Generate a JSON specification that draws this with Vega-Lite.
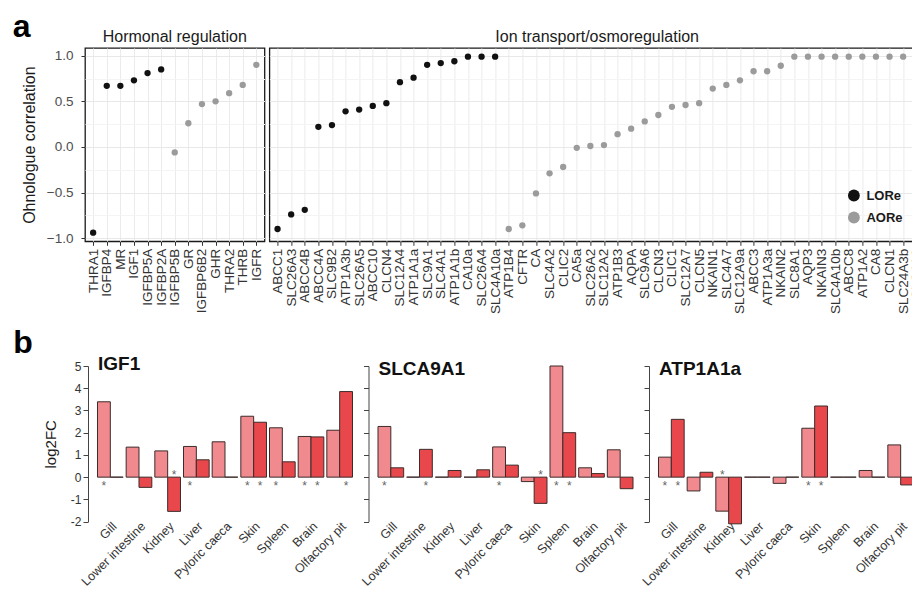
{
  "$schema": "https://vega.github.io/schema/vega-lite/v6.json",
  "padding": {"left": 12, "top": 11, "right": 0, "bottom": 0},
  "spacing": 11,
  "resolve": {"scale": {"color": "independent"}, "legend": {"color": "independent"}},
  "config": {
    "font": "Liberation Sans",
    "view": {"stroke": null},
    "axis": {"labelFont": "Liberation Sans", "titleFont": "Liberation Sans"},
    "title": {"font": "Liberation Sans"}
  },
  "datasets": {
    "corr": [
      {"gene": "THRA1", "group": "H", "type": "LORe", "r": -0.94},
      {"gene": "IGFBP4", "group": "H", "type": "LORe", "r": 0.67},
      {"gene": "MR", "group": "H", "type": "LORe", "r": 0.67},
      {"gene": "IGF1", "group": "H", "type": "LORe", "r": 0.73},
      {"gene": "IGFBP5A", "group": "H", "type": "LORe", "r": 0.81},
      {"gene": "IGFBP2A", "group": "H", "type": "LORe", "r": 0.85},
      {"gene": "IGFBP5B", "group": "H", "type": "AORe", "r": -0.06},
      {"gene": "GR", "group": "H", "type": "AORe", "r": 0.26},
      {"gene": "IGFBP6B2", "group": "H", "type": "AORe", "r": 0.47},
      {"gene": "GHR", "group": "H", "type": "AORe", "r": 0.5},
      {"gene": "THRA2", "group": "H", "type": "AORe", "r": 0.59},
      {"gene": "THRB", "group": "H", "type": "AORe", "r": 0.68},
      {"gene": "IGFR", "group": "H", "type": "AORe", "r": 0.9},
      {"gene": "ABCC1", "group": "I", "type": "LORe", "r": -0.9},
      {"gene": "SLC26A3", "group": "I", "type": "LORe", "r": -0.74},
      {"gene": "ABCC4B", "group": "I", "type": "LORe", "r": -0.69},
      {"gene": "ABCC4A", "group": "I", "type": "LORe", "r": 0.22},
      {"gene": "SLC9B2", "group": "I", "type": "LORe", "r": 0.24},
      {"gene": "ATP1A3b", "group": "I", "type": "LORe", "r": 0.39},
      {"gene": "SLC26A5", "group": "I", "type": "LORe", "r": 0.41},
      {"gene": "ABCC10", "group": "I", "type": "LORe", "r": 0.45},
      {"gene": "CLCN4", "group": "I", "type": "LORe", "r": 0.48},
      {"gene": "SLC12A4", "group": "I", "type": "LORe", "r": 0.71},
      {"gene": "ATP1A1a", "group": "I", "type": "LORe", "r": 0.76},
      {"gene": "SLC9A1", "group": "I", "type": "LORe", "r": 0.9},
      {"gene": "SLC4A1", "group": "I", "type": "LORe", "r": 0.92},
      {"gene": "ATP1A1b", "group": "I", "type": "LORe", "r": 0.94},
      {"gene": "CA10a", "group": "I", "type": "LORe", "r": 0.99},
      {"gene": "SLC26A4", "group": "I", "type": "LORe", "r": 0.99},
      {"gene": "SLC4A10a", "group": "I", "type": "LORe", "r": 0.99},
      {"gene": "ATP1B4", "group": "I", "type": "AORe", "r": -0.9},
      {"gene": "CFTR", "group": "I", "type": "AORe", "r": -0.86},
      {"gene": "CA", "group": "I", "type": "AORe", "r": -0.51},
      {"gene": "SLC4A2", "group": "I", "type": "AORe", "r": -0.29},
      {"gene": "CLIC2", "group": "I", "type": "AORe", "r": -0.22},
      {"gene": "CA5a", "group": "I", "type": "AORe", "r": -0.01},
      {"gene": "SLC26A2", "group": "I", "type": "AORe", "r": 0.01},
      {"gene": "SLC12A2", "group": "I", "type": "AORe", "r": 0.02},
      {"gene": "ATP1B3", "group": "I", "type": "AORe", "r": 0.14},
      {"gene": "AQPA", "group": "I", "type": "AORe", "r": 0.2},
      {"gene": "SLC9A6", "group": "I", "type": "AORe", "r": 0.28},
      {"gene": "CLCN3", "group": "I", "type": "AORe", "r": 0.35},
      {"gene": "CLIC1", "group": "I", "type": "AORe", "r": 0.44},
      {"gene": "SLC12A7", "group": "I", "type": "AORe", "r": 0.46},
      {"gene": "CLCN5", "group": "I", "type": "AORe", "r": 0.48},
      {"gene": "NKAIN1", "group": "I", "type": "AORe", "r": 0.64},
      {"gene": "SLC4A7", "group": "I", "type": "AORe", "r": 0.68},
      {"gene": "SLC12A9a", "group": "I", "type": "AORe", "r": 0.73},
      {"gene": "ABCC3", "group": "I", "type": "AORe", "r": 0.83},
      {"gene": "ATP1A3a", "group": "I", "type": "AORe", "r": 0.83},
      {"gene": "NKAIN2", "group": "I", "type": "AORe", "r": 0.89},
      {"gene": "SLC8A1", "group": "I", "type": "AORe", "r": 0.99},
      {"gene": "AQP3", "group": "I", "type": "AORe", "r": 0.99},
      {"gene": "NKAIN3", "group": "I", "type": "AORe", "r": 0.99},
      {"gene": "SLC4A10b", "group": "I", "type": "AORe", "r": 0.99},
      {"gene": "ABCC8", "group": "I", "type": "AORe", "r": 0.99},
      {"gene": "ATP1A2", "group": "I", "type": "AORe", "r": 0.99},
      {"gene": "CA8", "group": "I", "type": "AORe", "r": 0.99},
      {"gene": "CLCN1", "group": "I", "type": "AORe", "r": 0.99},
      {"gene": "SLC24A3b", "group": "I", "type": "AORe", "r": 0.99},
      {"gene": "SLC4A3", "group": "I", "type": "AORe", "r": 0.99}
    ],
    "fc": [
      {"gene": "IGF1", "tissue": "Gill", "copy": "a", "v": 3.39, "sig": true},
      {"gene": "IGF1", "tissue": "Gill", "copy": "b", "v": 0, "sig": false},
      {"gene": "IGF1", "tissue": "Lower intestine", "copy": "a", "v": 1.35, "sig": false},
      {"gene": "IGF1", "tissue": "Lower intestine", "copy": "b", "v": -0.46, "sig": false},
      {"gene": "IGF1", "tissue": "Kidney", "copy": "a", "v": 1.18, "sig": false},
      {"gene": "IGF1", "tissue": "Kidney", "copy": "b", "v": -1.54, "sig": true},
      {"gene": "IGF1", "tissue": "Liver", "copy": "a", "v": 1.38, "sig": true},
      {"gene": "IGF1", "tissue": "Liver", "copy": "b", "v": 0.78, "sig": false},
      {"gene": "IGF1", "tissue": "Pyloric caeca", "copy": "a", "v": 1.59, "sig": false},
      {"gene": "IGF1", "tissue": "Pyloric caeca", "copy": "b", "v": 0, "sig": false},
      {"gene": "IGF1", "tissue": "Skin", "copy": "a", "v": 2.74, "sig": true},
      {"gene": "IGF1", "tissue": "Skin", "copy": "b", "v": 2.47, "sig": true},
      {"gene": "IGF1", "tissue": "Spleen", "copy": "a", "v": 2.22, "sig": true},
      {"gene": "IGF1", "tissue": "Spleen", "copy": "b", "v": 0.69, "sig": false},
      {"gene": "IGF1", "tissue": "Brain", "copy": "a", "v": 1.83, "sig": true},
      {"gene": "IGF1", "tissue": "Brain", "copy": "b", "v": 1.81, "sig": true},
      {"gene": "IGF1", "tissue": "Olfactory pit", "copy": "a", "v": 2.11, "sig": false},
      {"gene": "IGF1", "tissue": "Olfactory pit", "copy": "b", "v": 3.85, "sig": true},
      {"gene": "SLCA9A1", "tissue": "Gill", "copy": "a", "v": 2.28, "sig": true},
      {"gene": "SLCA9A1", "tissue": "Gill", "copy": "b", "v": 0.42, "sig": false},
      {"gene": "SLCA9A1", "tissue": "Lower intestine", "copy": "a", "v": 0, "sig": false},
      {"gene": "SLCA9A1", "tissue": "Lower intestine", "copy": "b", "v": 1.25, "sig": true},
      {"gene": "SLCA9A1", "tissue": "Kidney", "copy": "a", "v": 0, "sig": false},
      {"gene": "SLCA9A1", "tissue": "Kidney", "copy": "b", "v": 0.3, "sig": false},
      {"gene": "SLCA9A1", "tissue": "Liver", "copy": "a", "v": 0, "sig": false},
      {"gene": "SLCA9A1", "tissue": "Liver", "copy": "b", "v": 0.33, "sig": false},
      {"gene": "SLCA9A1", "tissue": "Pyloric caeca", "copy": "a", "v": 1.36, "sig": true},
      {"gene": "SLCA9A1", "tissue": "Pyloric caeca", "copy": "b", "v": 0.54, "sig": false},
      {"gene": "SLCA9A1", "tissue": "Skin", "copy": "a", "v": -0.2, "sig": false},
      {"gene": "SLCA9A1", "tissue": "Skin", "copy": "b", "v": -1.18, "sig": true},
      {"gene": "SLCA9A1", "tissue": "Spleen", "copy": "a", "v": 5.0, "sig": true},
      {"gene": "SLCA9A1", "tissue": "Spleen", "copy": "b", "v": 2.0, "sig": true},
      {"gene": "SLCA9A1", "tissue": "Brain", "copy": "a", "v": 0.42, "sig": false},
      {"gene": "SLCA9A1", "tissue": "Brain", "copy": "b", "v": 0.16, "sig": false},
      {"gene": "SLCA9A1", "tissue": "Olfactory pit", "copy": "a", "v": 1.23, "sig": false},
      {"gene": "SLCA9A1", "tissue": "Olfactory pit", "copy": "b", "v": -0.52, "sig": false},
      {"gene": "ATP1A1a", "tissue": "Gill", "copy": "a", "v": 0.9, "sig": true},
      {"gene": "ATP1A1a", "tissue": "Gill", "copy": "b", "v": 2.6, "sig": true},
      {"gene": "ATP1A1a", "tissue": "Lower intestine", "copy": "a", "v": -0.62, "sig": false},
      {"gene": "ATP1A1a", "tissue": "Lower intestine", "copy": "b", "v": 0.22, "sig": false},
      {"gene": "ATP1A1a", "tissue": "Kidney", "copy": "a", "v": -1.53, "sig": true},
      {"gene": "ATP1A1a", "tissue": "Kidney", "copy": "b", "v": -2.1, "sig": false},
      {"gene": "ATP1A1a", "tissue": "Liver", "copy": "a", "v": 0, "sig": false},
      {"gene": "ATP1A1a", "tissue": "Liver", "copy": "b", "v": 0, "sig": false},
      {"gene": "ATP1A1a", "tissue": "Pyloric caeca", "copy": "a", "v": -0.28, "sig": false},
      {"gene": "ATP1A1a", "tissue": "Pyloric caeca", "copy": "b", "v": 0, "sig": false},
      {"gene": "ATP1A1a", "tissue": "Skin", "copy": "a", "v": 2.2, "sig": true},
      {"gene": "ATP1A1a", "tissue": "Skin", "copy": "b", "v": 3.2, "sig": true},
      {"gene": "ATP1A1a", "tissue": "Spleen", "copy": "a", "v": 0, "sig": false},
      {"gene": "ATP1A1a", "tissue": "Spleen", "copy": "b", "v": 0, "sig": false},
      {"gene": "ATP1A1a", "tissue": "Brain", "copy": "a", "v": 0.3, "sig": false},
      {"gene": "ATP1A1a", "tissue": "Brain", "copy": "b", "v": 0, "sig": false},
      {"gene": "ATP1A1a", "tissue": "Olfactory pit", "copy": "a", "v": 1.45, "sig": false},
      {"gene": "ATP1A1a", "tissue": "Olfactory pit", "copy": "b", "v": -0.35, "sig": false}
    ]
  },
  "vconcat": [
    {
      "title": {"text": "a", "anchor": "start", "frame": "bounds", "fontSize": 32, "fontWeight": "bold", "color": "#000000", "dx": -8, "offset": -16},
      "bounds": "flush",
      "spacing": 4.4,
      "resolve": {"legend": {"color": "independent"}},
      "hconcat": [
        {
          "width": 179.5,
          "height": 193.3,
          "title": {"text": "Hormonal regulation", "fontSize": 16, "fontWeight": "normal", "color": "#1a1a1a", "offset": 3},
          "view": {"stroke": "#1a1a1a", "strokeWidth": 1.3},
          "data": {"name": "corr"},
          "transform": [{"filter": "datum.group === 'H'"}],
          "mark": {"type": "point", "filled": true, "size": 40, "opacity": 1},
          "encoding": {
            "x": {"field": "gene", "type": "nominal", "sort": null,
              "scale": {"type": "point", "padding": 0.6},
              "axis": {"title": null, "labelAngle": -90, "labelAlign": "right", "labelBaseline": "middle", "labelFontSize": 13.5, "labelColor": "#333333", "labelPadding": 3, "tickSize": 4, "tickColor": "#333333", "domain": false, "grid": true, "gridColor": "#ebebeb", "labelOverlap": false}},
            "y": {"field": "r", "type": "quantitative",
              "scale": {"domain": [-1.035, 1.085], "nice": false, "zero": false},
              "axis": {"title": "Ohnologue correlation", "titleFontSize": 16, "titleFontWeight": "normal", "titleColor": "#1a1a1a", "titlePadding": 9,
                "values": [-1, -0.75, -0.5, -0.25, 0, 0.25, 0.5, 0.75, 1],
                "labelExpr": "(datum.value * 4) % 2 == 0 ? format(datum.value, '.1f') : ''",
                "labelFontSize": 13.5, "labelColor": "#4d4d4d", "labelPadding": 8, "tickSize": 4, "tickColor": "#333333",
                "tickOpacity": {"condition": {"test": "(datum.value * 4) % 2 != 0", "value": 0}, "value": 1},
                "gridColor": {"condition": {"test": "(datum.value * 4) % 2 != 0", "value": "#f4f4f4"}, "value": "#e8e8e8"},
                "domain": false, "grid": true}},
            "color": {"field": "type", "type": "nominal", "scale": {"domain": ["LORe", "AORe"], "range": ["#111111", "#9b9b9b"]}, "legend": null}
          }
        },
        {
          "width": 655.5,
          "height": 193.3,
          "title": {"text": "Ion transport/osmoregulation", "fontSize": 16, "fontWeight": "normal", "color": "#1a1a1a", "offset": 3},
          "view": {"stroke": "#1a1a1a", "strokeWidth": 1.3},
          "data": {"name": "corr"},
          "transform": [{"filter": "datum.group === 'I'"}],
          "mark": {"type": "point", "filled": true, "size": 40, "opacity": 1},
          "encoding": {
            "x": {"field": "gene", "type": "nominal", "sort": null,
              "scale": {"type": "point", "padding": 0.6},
              "axis": {"title": null, "labelAngle": -90, "labelAlign": "right", "labelBaseline": "middle", "labelFontSize": 13.5, "labelColor": "#333333", "labelPadding": 3, "tickSize": 4, "tickColor": "#333333", "domain": false, "grid": true, "gridColor": "#ebebeb", "labelOverlap": false}},
            "y": {"field": "r", "type": "quantitative",
              "scale": {"domain": [-1.035, 1.085], "nice": false, "zero": false},
              "axis": {"title": null, "labels": false, "ticks": false, "domain": false, "grid": true,
                "values": [-1, -0.75, -0.5, -0.25, 0, 0.25, 0.5, 0.75, 1],
                "gridColor": {"condition": {"test": "(datum.value * 4) % 2 != 0", "value": "#f4f4f4"}, "value": "#e8e8e8"}}},
            "color": {"field": "type", "type": "nominal", "scale": {"domain": ["LORe", "AORe"], "range": ["#111111", "#9b9b9b"]},
              "legend": {"orient": "none", "legendX": 578, "legendY": 141, "title": null, "symbolSize": 140, "symbolType": "circle", "symbolStrokeWidth": 0, "labelFontSize": 13, "labelFontWeight": "bold", "labelColor": "#1a1a1a", "rowPadding": 8, "padding": 0, "labelOffset": 6}}
          }
        }
      ]
    },
    {
      "title": {"text": "b", "anchor": "start", "frame": "bounds", "fontSize": 32, "fontWeight": "bold", "color": "#000000", "dx": -30, "offset": -5},
      "bounds": "flush",
      "spacing": 12.5,
      "hconcat": [
        {
          "width": 267.5,
          "height": 155.6,
          "title": {"text": "IGF1", "anchor": "start", "frame": "group", "fontSize": 19, "fontWeight": "bold", "color": "#111111", "dx": 13, "offset": -13.5},
          "data": {"name": "fc"},
          "transform": [{"filter": "datum.gene === 'IGF1'"}],
          "encoding": {
            "x": {"field": "tissue", "type": "nominal", "sort": ["Gill", "Lower intestine", "Kidney", "Liver", "Pyloric caeca", "Skin", "Spleen", "Brain", "Olfactory pit"],
              "scale": {"paddingInner": 0.105, "paddingOuter": 0.218, "align": 1},
              "axis": {"title": null, "labelAngle": -45, "ticks": false, "domain": false, "labelFontSize": 12.5, "labelColor": "#333333", "labelPadding": -2, "labelDx": 4}},
            "xOffset": {"field": "copy", "type": "nominal", "sort": ["a", "b"], "scale": {"paddingInner": 0, "paddingOuter": 0}}
          },
          "layer": [
            {
              "mark": {"type": "bar", "stroke": "#3d2b2b", "strokeWidth": 1},
              "encoding": {
                "y": {"field": "v", "type": "quantitative", "scale": {"domain": [-2, 5], "nice": false},
                  "axis": {"title": "log2FC", "titleFontSize": 15, "titleFontWeight": "normal", "titleColor": "#1a1a1a", "titlePadding": 12,
                    "values": [-2, -1, 0, 1, 2, 3, 4, 5], "labelExpr": "datum.value < 0 ? '-' + abs(datum.value) : '' + datum.value",
                    "labelOverlap": false, "labelFlush": false, "labelSeparation": 0,
                    "labelFontSize": 12, "labelColor": "#333333", "tickSize": 5, "tickColor": "#444444", "domainColor": "#444444", "grid": false, "offset": -3, "labelPadding": 2}},
                "color": {"field": "copy", "type": "nominal", "scale": {"domain": ["a", "b"], "range": ["#f08a8e", "#e8484b"]}, "legend": null}
              }
            },
            {
              "transform": [{"filter": "datum.sig && datum.v >= 0"}],
              "mark": {"type": "text", "text": "*", "fontSize": 12, "color": "#666666", "baseline": "alphabetic", "dy": 7},
              "encoding": {"y": {"datum": -0.26, "type": "quantitative",
                  "axis": {"title": "log2FC", "titleFontSize": 15, "titleFontWeight": "normal", "titleColor": "#1a1a1a", "titlePadding": 12,
                    "values": [-2, -1, 0, 1, 2, 3, 4, 5], "labelExpr": "datum.value < 0 ? '-' + abs(datum.value) : '' + datum.value",
                    "labelOverlap": false, "labelFlush": false, "labelSeparation": 0,
                    "labelFontSize": 12, "labelColor": "#333333", "tickSize": 5, "tickColor": "#444444", "domainColor": "#444444", "grid": false, "offset": -3, "labelPadding": 2}}}
            },
            {
              "transform": [{"filter": "datum.sig && datum.v < 0"}],
              "mark": {"type": "text", "text": "*", "fontSize": 12, "color": "#666666", "baseline": "alphabetic", "dy": 7},
              "encoding": {"y": {"datum": 0.24, "type": "quantitative",
                  "axis": {"title": "log2FC", "titleFontSize": 15, "titleFontWeight": "normal", "titleColor": "#1a1a1a", "titlePadding": 12,
                    "values": [-2, -1, 0, 1, 2, 3, 4, 5], "labelExpr": "datum.value < 0 ? '-' + abs(datum.value) : '' + datum.value",
                    "labelOverlap": false, "labelFlush": false, "labelSeparation": 0,
                    "labelFontSize": 12, "labelColor": "#333333", "tickSize": 5, "tickColor": "#444444", "domainColor": "#444444", "grid": false, "offset": -3, "labelPadding": 2}}}
            }
          ]
        },
        {
          "width": 267.5,
          "height": 155.6,
          "title": {"text": "SLCA9A1", "anchor": "start", "frame": "group", "fontSize": 19, "fontWeight": "bold", "color": "#111111", "dx": 13, "offset": -13.5},
          "data": {"name": "fc"},
          "transform": [{"filter": "datum.gene === 'SLCA9A1'"}],
          "encoding": {
            "x": {"field": "tissue", "type": "nominal", "sort": ["Gill", "Lower intestine", "Kidney", "Liver", "Pyloric caeca", "Skin", "Spleen", "Brain", "Olfactory pit"],
              "scale": {"paddingInner": 0.105, "paddingOuter": 0.218, "align": 1},
              "axis": {"title": null, "labelAngle": -45, "ticks": false, "domain": false, "labelFontSize": 12.5, "labelColor": "#333333", "labelPadding": -2, "labelDx": 4}},
            "xOffset": {"field": "copy", "type": "nominal", "sort": ["a", "b"], "scale": {"paddingInner": 0, "paddingOuter": 0}}
          },
          "layer": [
            {
              "mark": {"type": "bar", "stroke": "#3d2b2b", "strokeWidth": 1},
              "encoding": {
                "y": {"field": "v", "type": "quantitative", "scale": {"domain": [-2, 5], "nice": false},
                  "axis": {"title": null, "labels": false, "values": [-2, -1, 0, 1, 2, 3, 4, 5], "tickSize": 5, "tickColor": "#444444", "domainColor": "#444444", "grid": false, "offset": -3}},
                "color": {"field": "copy", "type": "nominal", "scale": {"domain": ["a", "b"], "range": ["#f08a8e", "#e8484b"]}, "legend": null}
              }
            },
            {
              "transform": [{"filter": "datum.sig && datum.v >= 0"}],
              "mark": {"type": "text", "text": "*", "fontSize": 12, "color": "#666666", "baseline": "alphabetic", "dy": 7},
              "encoding": {"y": {"datum": -0.26, "type": "quantitative", "axis": {"title": null, "labels": false, "values": [-2, -1, 0, 1, 2, 3, 4, 5], "tickSize": 5, "tickColor": "#444444", "domainColor": "#444444", "grid": false, "offset": -3}}}
            },
            {
              "transform": [{"filter": "datum.sig && datum.v < 0"}],
              "mark": {"type": "text", "text": "*", "fontSize": 12, "color": "#666666", "baseline": "alphabetic", "dy": 7},
              "encoding": {"y": {"datum": 0.24, "type": "quantitative", "axis": {"title": null, "labels": false, "values": [-2, -1, 0, 1, 2, 3, 4, 5], "tickSize": 5, "tickColor": "#444444", "domainColor": "#444444", "grid": false, "offset": -3}}}
            }
          ]
        },
        {
          "width": 267.5,
          "height": 155.6,
          "title": {"text": "ATP1A1a", "anchor": "start", "frame": "group", "fontSize": 19, "fontWeight": "bold", "color": "#111111", "dx": 13, "offset": -13.5},
          "data": {"name": "fc"},
          "transform": [{"filter": "datum.gene === 'ATP1A1a'"}],
          "encoding": {
            "x": {"field": "tissue", "type": "nominal", "sort": ["Gill", "Lower intestine", "Kidney", "Liver", "Pyloric caeca", "Skin", "Spleen", "Brain", "Olfactory pit"],
              "scale": {"paddingInner": 0.105, "paddingOuter": 0.218, "align": 1},
              "axis": {"title": null, "labelAngle": -45, "ticks": false, "domain": false, "labelFontSize": 12.5, "labelColor": "#333333", "labelPadding": -2, "labelDx": 4}},
            "xOffset": {"field": "copy", "type": "nominal", "sort": ["a", "b"], "scale": {"paddingInner": 0, "paddingOuter": 0}}
          },
          "layer": [
            {
              "mark": {"type": "bar", "stroke": "#3d2b2b", "strokeWidth": 1},
              "encoding": {
                "y": {"field": "v", "type": "quantitative", "scale": {"domain": [-2, 5], "nice": false},
                  "axis": {"title": null, "labels": false, "values": [-2, -1, 0, 1, 2, 3, 4, 5], "tickSize": 5, "tickColor": "#444444", "domainColor": "#444444", "grid": false, "offset": -3}},
                "color": {"field": "copy", "type": "nominal", "scale": {"domain": ["a", "b"], "range": ["#f08a8e", "#e8484b"]}, "legend": null}
              }
            },
            {
              "transform": [{"filter": "datum.sig && datum.v >= 0"}],
              "mark": {"type": "text", "text": "*", "fontSize": 12, "color": "#666666", "baseline": "alphabetic", "dy": 7},
              "encoding": {"y": {"datum": -0.26, "type": "quantitative", "axis": {"title": null, "labels": false, "values": [-2, -1, 0, 1, 2, 3, 4, 5], "tickSize": 5, "tickColor": "#444444", "domainColor": "#444444", "grid": false, "offset": -3}}}
            },
            {
              "transform": [{"filter": "datum.sig && datum.v < 0"}],
              "mark": {"type": "text", "text": "*", "fontSize": 12, "color": "#666666", "baseline": "alphabetic", "dy": 7},
              "encoding": {"y": {"datum": 0.24, "type": "quantitative", "axis": {"title": null, "labels": false, "values": [-2, -1, 0, 1, 2, 3, 4, 5], "tickSize": 5, "tickColor": "#444444", "domainColor": "#444444", "grid": false, "offset": -3}}}
            }
          ]
        }
      ]
    }
  ]
}
